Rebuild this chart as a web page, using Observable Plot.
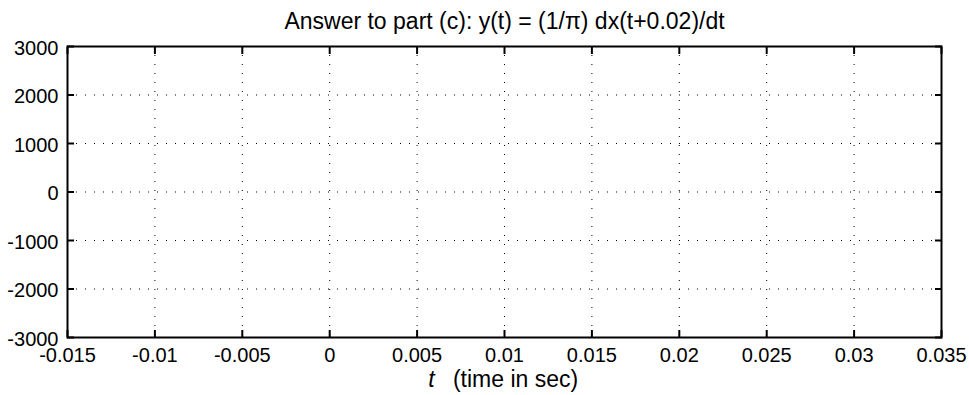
<!DOCTYPE html>
<html>
<head>
<meta charset="utf-8">
<script src="https://cdn.jsdelivr.net/npm/d3@7"></script>
<script src="https://cdn.jsdelivr.net/npm/@observablehq/plot@0.6"></script>
<style>
  html, body { margin: 0; padding: 0; background: #fff; }
  svg { font-family: "Liberation Sans", Arial, Helvetica, sans-serif; }
</style>
</head>
<body>
<div id="chart"></div>
<script>
const titleText = "Answer to part (c): y(t) = (1/\u03c0) dx(t+0.02)/dt";
const xLabelVar = "t";
const xLabelRest = "(time in sec)";
const xDomain = [-0.015, 0.035];
const yDomain = [-3000, 3000];
const xTicks = [-0.015, -0.01, -0.005, 0, 0.005, 0.01, 0.015, 0.02, 0.025, 0.03, 0.035];
const xTickLabels = ["-0.015", "-0.01", "-0.005", "0", "0.005", "0.01", "0.015", "0.02", "0.025", "0.03", "0.035"];
const yTicks = [-3000, -2000, -1000, 0, 1000, 2000, 3000];
const yTickLabels = ["-3000", "-2000", "-1000", "0", "1000", "2000", "3000"];
const series = []; // the plotted signal is empty in the reference

const fmtX = d => xTickLabels[xTicks.indexOf(d)];
const fmtY = d => yTickLabels[yTicks.indexOf(d)];
const innerX = xTicks.slice(1, -1);
const innerY = yTicks.slice(1, -1);

const chart = Plot.plot({
  width: 969,
  height: 395,
  marginLeft: 67,
  marginRight: 28,
  marginTop: 46,
  marginBottom: 58,
  style: { fontFamily: '"Liberation Sans", Arial, Helvetica, sans-serif', fontSize: "20px", background: "#fff", color: "#000" },
  x: { domain: xDomain, ticks: xTicks },
  y: { domain: yDomain, ticks: yTicks },
  marks: [
    Plot.gridX(innerX, { stroke: "#000", strokeOpacity: 1, strokeWidth: 1, strokeDasharray: "1,8" }),
    Plot.gridY(innerY, { stroke: "#000", strokeOpacity: 1, strokeWidth: 1, strokeDasharray: "1,8" }),
    Plot.line(series, { x: "t", y: "y", stroke: "#0000ff" }),
    // inward ticks on all four sides
    Plot.axisX(xTicks, { anchor: "bottom", tickSize: -7, text: null, label: null, strokeWidth: 2 }),
    Plot.axisX(xTicks, { anchor: "top", tickSize: -7, text: null, label: null, strokeWidth: 2 }),
    Plot.axisY(yTicks, { anchor: "left", tickSize: -7, text: null, label: null, strokeWidth: 2 }),
    Plot.axisY(yTicks, { anchor: "right", tickSize: -7, text: null, label: null, strokeWidth: 2 }),
    // tick labels
    Plot.axisX(xTicks, { anchor: "bottom", tickSize: 0, tickPadding: 10, tickFormat: fmtX, label: null, fontSize: 20, fill: "#000" }),
    Plot.axisY(yTicks, { anchor: "left", tickSize: 0, tickPadding: 9, tickFormat: fmtY, label: null, fontSize: 20, fill: "#000", dy: 2 }),
    Plot.frame({ stroke: "#000", strokeWidth: 2 }),
    // title
    Plot.text([titleText], { frameAnchor: "top", dy: -18, lineAnchor: "bottom", fontSize: 23, fill: "#000", text: d => d }),
    // x label
    Plot.text([xLabelVar], { frameAnchor: "bottom", dy: 49, dx: -73, lineAnchor: "bottom", fontSize: 23, fontStyle: "italic", fill: "#000", text: d => d }),
    Plot.text([xLabelRest], { frameAnchor: "bottom", dy: 49, dx: 11, lineAnchor: "bottom", fontSize: 23, fill: "#000", text: d => d })
  ]
});
document.getElementById("chart").appendChild(chart);
</script>
</body>
</html>
